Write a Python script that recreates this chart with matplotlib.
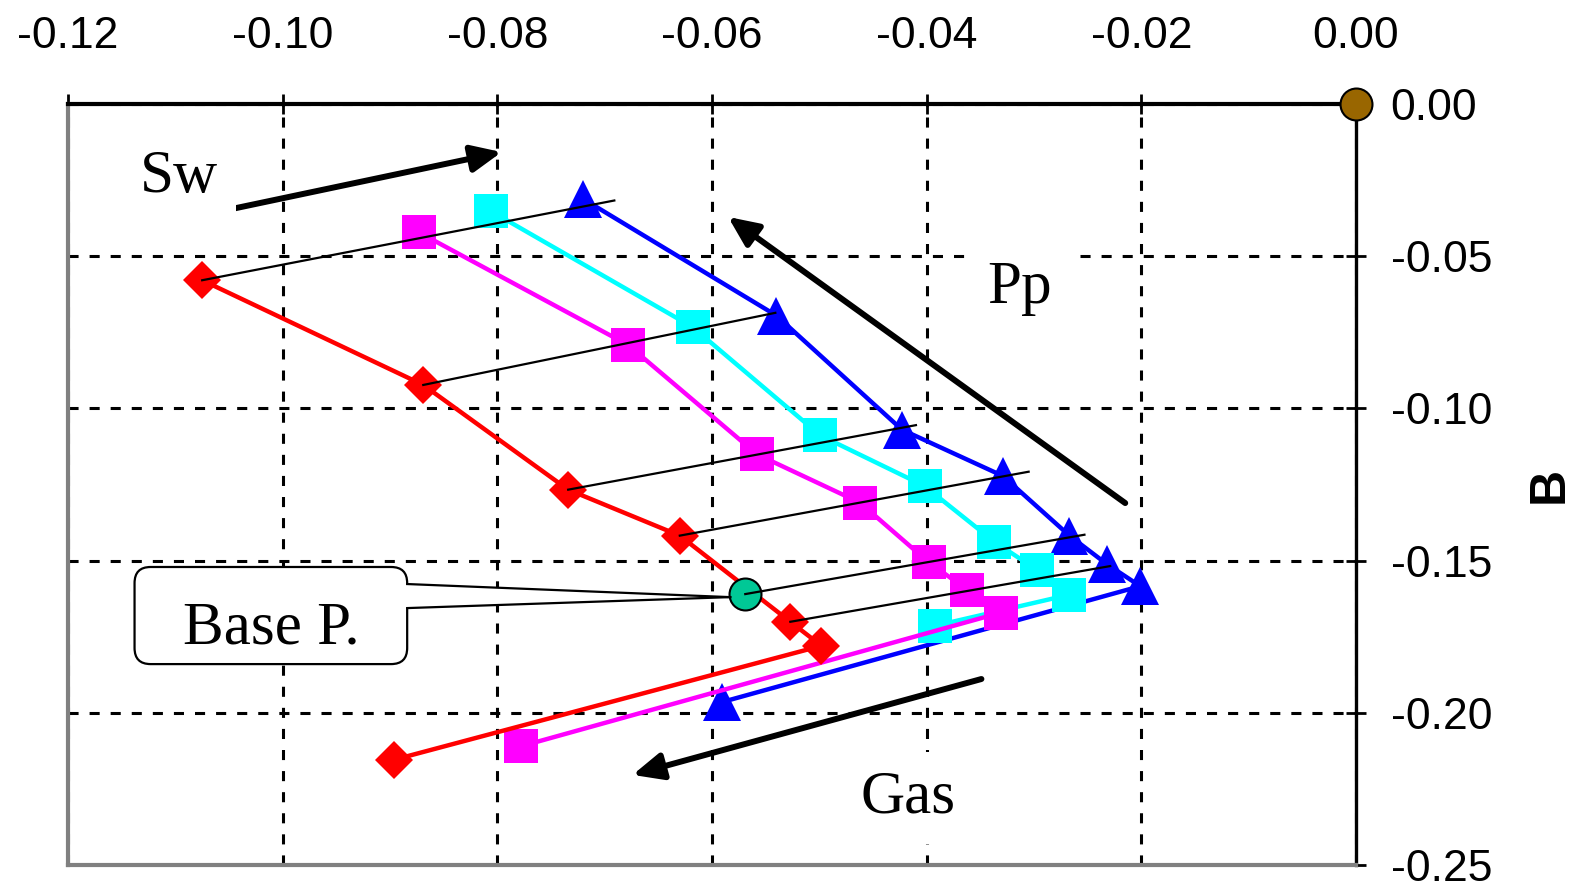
import matplotlib
matplotlib.use('Agg')
import matplotlib.pyplot as plt
from matplotlib.patches import FancyBboxPatch, Polygon

plt.rcParams['font.family'] = ['Liberation Sans', 'DejaVu Sans']
plt.rcParams['axes.unicode_minus'] = False

# series (x, B)
red_x = [-0.1075, -0.0869, -0.0734, -0.0630, -0.0527, -0.0498, -0.0896]
red_y = [-0.0579, -0.0923, -0.1267, -0.1418, -0.1701, -0.1780, -0.2154]
magenta_x = [-0.0873, -0.0678, -0.0558, -0.0462, -0.0398, -0.0362, -0.0331, -0.0778]
magenta_y = [-0.0422, -0.0792, -0.1151, -0.1310, -0.1506, -0.1596, -0.1671, -0.2110]
cyan_x = [-0.0806, -0.0618, -0.0499, -0.0402, -0.0337, -0.0297, -0.0267, -0.0392]
cyan_y = [-0.0352, -0.0733, -0.1089, -0.1255, -0.1438, -0.1531, -0.1612, -0.1714]
blue_x = [-0.0720, -0.0540, -0.0423, -0.0329, -0.0267, -0.0232, -0.0201, -0.0591]
blue_y = [-0.0312, -0.0695, -0.1070, -0.1222, -0.1418, -0.1512, -0.1584, -0.1965]

base_x, base_y = -0.0569, -0.1610      # "Base P."
origin_x, origin_y = 0.0, 0.0

# thin black lines joining equivalent points
iso_x0 = [-0.1075, -0.0869, -0.0734, -0.0630, -0.0569, -0.0527]
iso_y0 = [-0.0579, -0.0923, -0.1267, -0.1418, -0.1610, -0.1701]
iso_x1 = [-0.0691, -0.0541, -0.0410, -0.0305, -0.0253, -0.0229]
iso_y1 = [-0.0317, -0.0686, -0.1055, -0.1208, -0.1415, -0.1518]

x_ticks = [-0.12, -0.10, -0.08, -0.06, -0.04, -0.02, 0.00]
x_tick_labels = ['-0.12', '-0.10', '-0.08', '-0.06', '-0.04', '-0.02', '0.00']
y_ticks = [0.00, -0.05, -0.10, -0.15, -0.20, -0.25]
y_tick_labels = ['0.00', '-0.05', '-0.10', '-0.15', '-0.20', '-0.25']

W, H = 1586, 884
AX_L, AX_B, AX_W, AX_H = 68, 19, 1288, 761
fig = plt.figure(figsize=(W / 100, H / 100), dpi=100)
ax = fig.add_axes([AX_L / W, AX_B / H, AX_W / W, AX_H / H])
ax.set_xlim(-0.12, 0.0)
ax.set_ylim(-0.25, 0.0)
# y data per pixel over x data per pixel, for round corners
asp = (0.25 / AX_H) / (0.12 / AX_W)

ax.set_axisbelow(True)
ax.grid(True, color='black', lw=2.2, linestyle=(0, (3.3, 3.6)))

ax.xaxis.tick_top()
ax.yaxis.tick_right()
ax.set_xticks(x_ticks)
ax.set_xticklabels(x_tick_labels)
ax.set_yticks(y_ticks)
ax.set_yticklabels(y_tick_labels)
ax.tick_params(axis='x', direction='inout', length=14, width=2, pad=27, labelsize=32)
ax.tick_params(axis='y', direction='inout', length=14, width=2, pad=18, labelsize=32)

ax.spines['top'].set_color('black')
ax.spines['top'].set_linewidth(3)
ax.spines['right'].set_color('black')
ax.spines['right'].set_linewidth(2.4)
for s in ('left', 'bottom'):
    ax.spines[s].set_color('#808080')
    ax.spines[s].set_linewidth(3)

ax.yaxis.set_label_position('right')
ax.set_ylabel('B', fontweight='bold', fontsize=36, va='center', ha='center')
ax.yaxis.set_label_coords((1550 - AX_L) / AX_W, 0.5)

# series
ax.plot(blue_x, blue_y, color='#0000FF', lw=3.2, marker='^', ms=27, mew=0, zorder=3)
ax.plot(cyan_x, cyan_y, color='#00FFFF', lw=3.2, marker='s', ms=24, mew=0, zorder=3)
ax.plot(magenta_x, magenta_y, color='#FF00FF', lw=3.2, marker='s', ms=24, mew=0, zorder=3)
ax.plot(red_x, red_y, color='#FF0000', lw=3.2, marker='D', ms=19, mew=0, zorder=3)

ax.plot(base_x, base_y, 'o', ms=23, mfc='#00C896', mec='black', mew=1.5, zorder=4)
ax.plot(origin_x, origin_y, 'o', ms=23, mfc='#996600', mec='black', mew=1.5,
        clip_on=False, zorder=10)

for x0, y0, x1, y1 in zip(iso_x0, iso_y0, iso_x1, iso_y1):
    ax.plot([x0, x1], [y0, y1], color='black', lw=1.6, zorder=5)

# trend arrows
arrow_style = dict(arrowstyle='-|>,head_length=0.6,head_width=0.27', mutation_scale=30,
                   lw=4.3, color='black', shrinkA=0, shrinkB=0)
ax.annotate('', xy=(-0.0796, -0.0158), xytext=(-0.1092, -0.0378),
            arrowprops=arrow_style, zorder=6)
ax.annotate('', xy=(-0.0585, -0.0371), xytext=(-0.0215, -0.1311),
            arrowprops=arrow_style, zorder=6)
ax.annotate('', xy=(-0.0674, -0.2204), xytext=(-0.0349, -0.1889),
            arrowprops=arrow_style, zorder=6)

serif = ['Liberation Serif', 'DejaVu Serif']
box = dict(boxstyle='square,pad=0.3', fc='white', ec='none')
ax.text(-0.1133, -0.0289, 'Sw', family=serif, fontsize=44, va='baseline', bbox=box, zorder=7)
ax.text(-0.0344, -0.0654, 'Pp', family=serif, fontsize=44, va='baseline', bbox=box, zorder=7)
ax.text(-0.0462, -0.2329, 'Gas', family=serif, fontsize=44, va='baseline', bbox=box, zorder=7)

# "Base P." callout
bx0, bx1, by0, by1 = -0.1138, -0.0884, -0.1840, -0.1521
wy1, wy2 = -0.1577, -0.1656
callout = FancyBboxPatch((bx0, by0), bx1 - bx0, by1 - by0,
                         boxstyle='round,pad=0,rounding_size=0.0015',
                         mutation_aspect=asp, fc='white', ec='black', lw=1.6, zorder=8)
ax.add_patch(callout)
ax.add_patch(Polygon([(bx1 - 0.0004, wy1), (base_x - 0.0014, base_y - 0.0010),
                      (bx1 - 0.0004, wy2)], closed=True, fc='white', ec='none', zorder=9))
ax.plot([bx1, base_x - 0.0014], [wy1, base_y - 0.0010], color='black', lw=1.6, zorder=9)
ax.plot([bx1, base_x - 0.0014], [wy2, base_y - 0.0010], color='black', lw=1.6, zorder=9)
ax.text((bx0 + bx1) / 2, -0.1771, 'Base P.', family=serif, fontsize=44,
        ha='center', va='baseline', zorder=10)

fig.savefig('out.png', dpi=100)
